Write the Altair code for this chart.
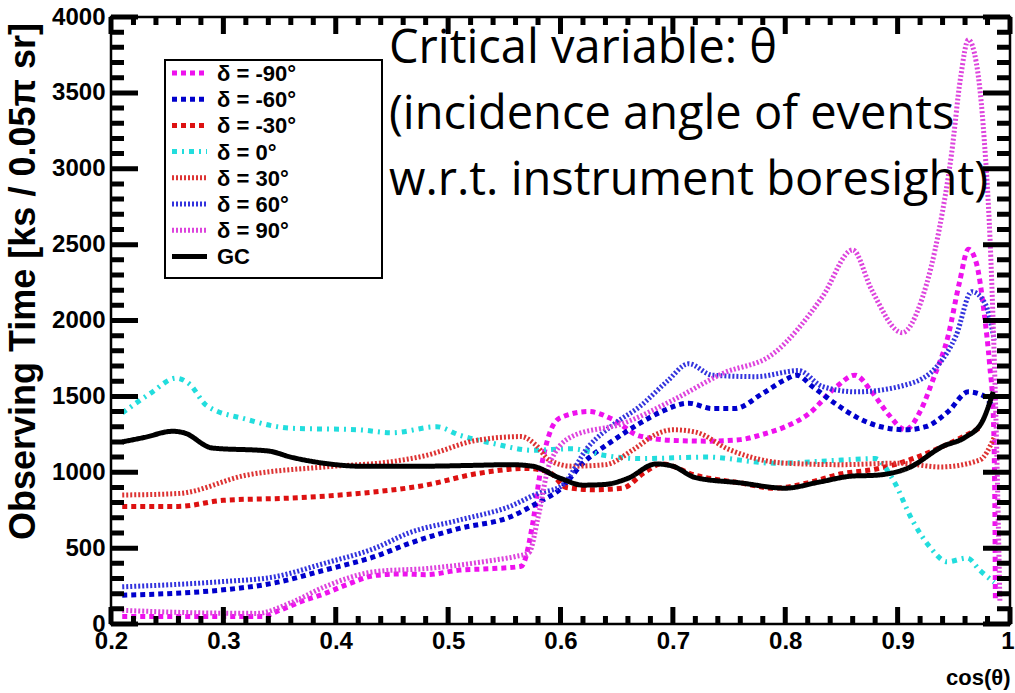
import altair as alt
import pandas as pd
import numpy as np

# ---------------- data ----------------
series_names = ["δ = -90°", "δ = -60°", "δ = -30°", "δ = 0°", "δ = 30°", "δ = 60°", "δ = 90°", "GC"]

x_m90 = [0.21, 0.25, 0.30, 0.335, 0.35, 0.37, 0.39, 0.41, 0.435, 0.46, 0.48, 0.51, 0.54, 0.565, 0.575, 0.582, 0.59, 0.60, 0.625, 0.646, 0.67, 0.70, 0.73, 0.76, 0.78, 0.80, 0.82, 0.845, 0.862, 0.877, 0.892, 0.907, 0.92, 0.932, 0.945, 0.955, 0.963, 0.970, 0.977, 0.982, 0.985, 0.9865, 0.987]
y_m90 = [50, 50, 50, 50, 90, 150, 200, 260, 320, 330, 325, 355, 365, 380, 650, 1000, 1250, 1360, 1400, 1350, 1240, 1210, 1205, 1215, 1250, 1300, 1380, 1560, 1640, 1530, 1380, 1280, 1400, 1620, 1900, 2250, 2470, 2380, 2050, 1700, 1400, 800, 150]

x_m60 = [0.21, 0.25, 0.30, 0.345, 0.39, 0.435, 0.465, 0.51, 0.555, 0.58, 0.60, 0.62, 0.645, 0.67, 0.69, 0.714, 0.735, 0.755, 0.78, 0.80, 0.81, 0.825, 0.845, 0.863, 0.885, 0.907, 0.925, 0.945, 0.963, 0.975, 0.985]
y_m60 = [190, 200, 225, 270, 355, 445, 530, 630, 705, 800, 890, 1060, 1200, 1320, 1400, 1455, 1420, 1420, 1520, 1610, 1640, 1560, 1450, 1365, 1300, 1280, 1300, 1400, 1530, 1510, 1430]

x_m30 = [0.21, 0.26, 0.30, 0.36, 0.42, 0.48, 0.525, 0.57, 0.59, 0.605, 0.63, 0.655, 0.675, 0.69, 0.72, 0.76, 0.79, 0.82, 0.85, 0.88, 0.91, 0.94, 0.96, 0.975]
y_m30 = [775, 775, 815, 830, 860, 915, 990, 1025, 1000, 900, 885, 895, 1000, 1055, 980, 930, 895, 930, 990, 1020, 1080, 1170, 1240, 1300]

x_d0 = [0.21, 0.235, 0.258, 0.27, 0.285, 0.32, 0.36, 0.42, 0.45, 0.49, 0.51, 0.54, 0.575, 0.61, 0.64, 0.67, 0.73, 0.79, 0.85, 0.88, 0.896, 0.913, 0.929, 0.944, 0.962, 0.973, 0.986]
y_d0 = [1390, 1520, 1620, 1580, 1440, 1350, 1290, 1280, 1260, 1300, 1245, 1190, 1145, 1155, 1110, 1090, 1100, 1060, 1080, 1090, 950, 685, 505, 410, 435, 355, 275]

x_p30 = [0.21, 0.26, 0.32, 0.39, 0.45, 0.48, 0.525, 0.565, 0.578, 0.59, 0.61, 0.64, 0.665, 0.685, 0.70, 0.72, 0.75, 0.80, 0.85, 0.90, 0.938, 0.973, 0.986]
y_p30 = [850, 860, 980, 1035, 1070, 1110, 1210, 1235, 1180, 1080, 1040, 1050, 1150, 1250, 1280, 1265, 1150, 1060, 1050, 1060, 1035, 1080, 1230]

x_p60 = [0.21, 0.30, 0.345, 0.39, 0.435, 0.465, 0.51, 0.555, 0.58, 0.60, 0.625, 0.65, 0.67, 0.695, 0.714, 0.735, 0.774, 0.812, 0.833, 0.863, 0.907, 0.937, 0.952, 0.966, 0.978, 0.986]
y_p60 = [245, 280, 310, 400, 500, 600, 685, 775, 860, 905, 1170, 1330, 1430, 1600, 1715, 1640, 1630, 1670, 1565, 1530, 1575, 1715, 1900, 2190, 2110, 1870]

x_p90 = [0.21, 0.27, 0.33, 0.36, 0.39, 0.435, 0.48, 0.54, 0.56, 0.572, 0.58, 0.59, 0.61, 0.655, 0.70, 0.744, 0.79, 0.833, 0.86, 0.877, 0.904, 0.922, 0.937, 0.948, 0.956, 0.963, 0.970, 0.977, 0.983, 0.988, 0.991]
y_p90 = [90, 75, 70, 140, 245, 345, 365, 420, 445, 470, 700, 1050, 1235, 1320, 1475, 1650, 1785, 2155, 2465, 2200, 1920, 2150, 2600, 3100, 3600, 3850, 3700, 3200, 2400, 1200, 150]

x_gc = [0.21, 0.23, 0.255, 0.265, 0.29, 0.34, 0.36, 0.40, 0.42, 0.48, 0.52, 0.555, 0.575, 0.60, 0.62, 0.64, 0.66, 0.685, 0.70, 0.72, 0.76, 0.80, 0.83, 0.86, 0.88, 0.91, 0.94, 0.96, 0.975, 0.985]
y_gc = [1200, 1230, 1270, 1260, 1160, 1140, 1100, 1050, 1040, 1040, 1045, 1050, 1040, 960, 915, 920, 960, 1055, 1040, 965, 930, 895, 935, 975, 980, 1030, 1170, 1230, 1330, 1530]

x_tick_labels = [0.2, 0.3, 0.4, 0.5, 0.6, 0.7, 0.8, 0.9, 1.0]
y_tick_labels = [0, 500, 1000, 1500, 2000, 2500, 3000, 3500, 4000]
x_minor_ticks = [round(0.2 + 0.02 * k, 3) for k in range(41)]
y_minor_ticks = list(range(0, 4001, 100))

note_lines = ["Critical variable: θ", "(incidence angle of events", "w.r.t. instrument boresight)"]

# ---------------- styles ----------------
FRAME = "frame"
style_domain = series_names + [FRAME]
colors = ["#ee11ee", "#0000cc", "#dd1111", "#22dddd", "#dd3333", "#3333dd", "#dd44dd", "#000000", "#000000"]
dashes = [[5, 4], [5, 4], [5, 4], [5, 5, 2, 5], [2, 2], [2, 2], [2, 2], [1, 0], [1, 0]]
widths = [5, 5, 5, 4, 2.5, 2.5, 2.5, 3.5, 2]

W, H = 899, 607
X0, X1, Y0, Y1 = 0.2, 1.0, 0, 4000
LABEL_FONT = "Liberation Sans Narrow, Liberation Sans, Arial, sans-serif"

# tick lengths (pixels) converted to data units along the perpendicular axis
PX_Y = (Y1 - Y0) / H
PX_X = (X1 - X0) / W
XT_MAJ, XT_MIN = 17 * PX_Y, 8 * PX_Y
YT_MAJ, YT_MIN = 27 * PX_X, 13 * PX_X

# ---------------- one table: curves + frame tick segments ----------------
xs = [x_m90, x_m60, x_m30, x_d0, x_p30, x_p60, x_p90, x_gc]
ys = [y_m90, y_m60, y_m30, y_d0, y_p30, y_p60, y_p90, y_gc]
rows = []
for name, xv, yv in zip(series_names, xs, ys):
    for i, (a, b) in enumerate(zip(xv, yv)):
        rows.append({"style": name, "grp": name, "x": a, "y": b, "i": i})

seg = 0
def add_seg(xa, ya, xb, yb):
    global seg
    g = f"tick{seg}"
    rows.append({"style": FRAME, "grp": g, "x": xa, "y": ya, "i": 0})
    rows.append({"style": FRAME, "grp": g, "x": xb, "y": yb, "i": 1})
    seg += 1

for v in x_minor_ticks:
    L = XT_MAJ if any(abs(v - m) < 1e-6 for m in x_tick_labels) else XT_MIN
    add_seg(v, Y0, v, Y0 + L)      # bottom
    add_seg(v, Y1, v, Y1 - L)      # top
for v in y_minor_ticks:
    L = YT_MAJ if v in y_tick_labels else YT_MIN
    add_seg(X0, v, X0 + L, v)      # left
    add_seg(X1, v, X1 - L, v)      # right

df = pd.DataFrame(rows)

xscale = alt.Scale(domain=[X0, X1], nice=False, zero=False)
yscale = alt.Scale(domain=[Y0, Y1], nice=False)
cscale = alt.Scale(domain=style_domain, range=colors)
dscale = alt.Scale(domain=style_domain, range=dashes)
wscale = alt.Scale(domain=style_domain, range=widths)

x_axis = alt.Axis(
    values=x_tick_labels, ticks=False, domain=False, grid=False, orient="bottom",
    labelExpr="datum.value >= 0.999 ? '1' : format(datum.value, '.1f')",
    labelAlign={"condition": {"test": "datum.value >= 0.999", "value": "right"}, "value": "center"},
    labelOffset={"condition": {"test": "datum.value >= 0.999", "value": 4}, "value": 0},
    labelFont=LABEL_FONT, labelFontSize=24, labelFontWeight="bold", labelColor="black",
    labelPadding=5, labelOverlap=False, labelFlush=False,
    title="cos(θ)", titleAnchor="end", titleFont=LABEL_FONT, titleFontSize=22,
    titleFontWeight="bold", titleColor="black", titlePadding=14)
y_axis = alt.Axis(
    values=y_tick_labels, ticks=False, domain=False, grid=False, format="d", orient="left",
    labelFont=LABEL_FONT, labelFontSize=24, labelFontWeight="bold", labelColor="black",
    labelPadding=6, labelOverlap=False, labelFlush=False,
    title="Observing Time [ks / 0.05π sr]", titleFont=LABEL_FONT,
    titleFontSize=36, titleFontWeight="bold", titleColor="black", titleLimit=2000,
    titleAngle=270, titleAlign="center", titleBaseline="alphabetic",
    titleX=-77, titleY=264)

lines = alt.Chart(df).mark_line(interpolate="monotone", strokeCap="butt").encode(
    x=alt.X("x:Q", scale=xscale, axis=x_axis),
    y=alt.Y("y:Q", scale=yscale, axis=y_axis),
    color=alt.Color("style:N", scale=cscale, legend=None),
    strokeDash=alt.StrokeDash("style:N", scale=dscale, legend=None),
    strokeWidth=alt.StrokeWidth("style:N", scale=wscale, legend=None),
    detail=alt.Detail("grp:N"),
    order=alt.Order("i:Q"),
)

# ---------------- legend box ----------------
legend_box = alt.Chart(pd.DataFrame({"k": [0]})).mark_rect(
    fill="white", stroke="black", strokeWidth=2).encode(
    x=alt.value(54), x2=alt.value(271), y=alt.value(43), y2=alt.value(261))

legend_layers = []
for k, name in enumerate(series_names):
    ry = 56 + k * 26.2
    d = pd.DataFrame({"style": [name]})
    legend_layers.append(alt.Chart(d).mark_rule(strokeCap="butt").encode(
        x=alt.value(61), x2=alt.value(96), y=alt.value(ry),
        color=alt.Color("style:N", scale=cscale, legend=None),
        strokeDash=alt.StrokeDash("style:N", scale=dscale, legend=None),
        strokeWidth=alt.StrokeWidth("style:N", scale=wscale, legend=None)))
    legend_layers.append(alt.Chart(d).mark_text(
        align="left", baseline="middle", font=LABEL_FONT, fontSize=22,
        fontWeight="bold", color="black").encode(
        x=alt.value(106), y=alt.value(ry + 1), text="style:N"))

note = alt.Chart(pd.DataFrame({"k": [0]})).mark_text(
    align="left", baseline="alphabetic", font="Open Sans", fontSize=47,
    lineHeight=66, color="black", text=note_lines).encode(
    x=alt.value(278), y=alt.value(46))

chart = alt.layer(lines, legend_box, *legend_layers, note).resolve_axis(
    x="independent", y="independent"
).properties(
    width=W, height=H,
    padding={"left": 111, "top": 17, "right": 5, "bottom": 69},
    autosize="none",
    background="white",
).configure_view(stroke="black", strokeWidth=2.5)

chart.save("out.html", embed_options={"renderer": "svg", "actions": False})
